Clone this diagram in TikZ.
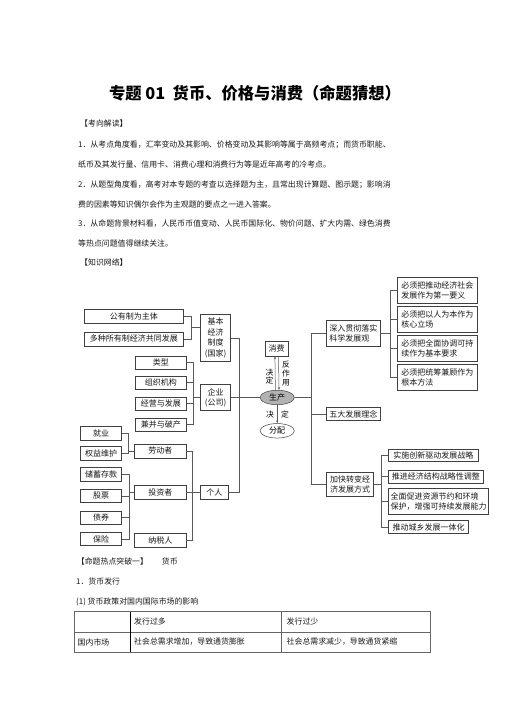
\documentclass[tikz,border=0pt]{standalone}
\usepackage{fontspec}
\setmainfont{Noto Sans CJK SC}
\usetikzlibrary{shapes.geometric,arrows.meta,shadows}

\tikzset{
  box/.style={draw=black!75, fill=white, line width=.5pt, inner sep=1pt, align=center,
    font=\fontsize{8}{10}\selectfont, text=black!90,
    drop shadow={shadow xshift=.6pt, shadow yshift=-.6pt, fill=black!45, opacity=1}},
  lbox/.style={box, align=left},
  wide/.style={minimum width=99pt, minimum height=14pt},
  mid/.style={minimum width=51.7pt, minimum height=13.3pt},
  outer/.style={minimum width=41.4pt, minimum height=13.3pt},
  oval/.style={ellipse, draw=black!75, line width=.5pt, inner sep=0pt,
    minimum width=34.3pt, minimum height=14.5pt, font=\fontsize{8}{9}\selectfont},
  link/.style={draw=black!65, line width=.5pt},
  arr/.style={link, -{Stealth[length=3pt,width=2.2pt]}},
  txt/.style={anchor=west, inner sep=0pt, font=\fontsize{7.9}{9}\selectfont, text=black!90},
  vlab/.style={inner sep=0pt, align=center, font=\fontsize{7.8}{8.8}\selectfont},
}

\begin{document}
\begin{tikzpicture}[x=1pt, y=-1pt]
  \useasboundingbox (0,0) rectangle (505,714);

  % heading and text
  \node[font=\fontsize{16.3}{16}\selectfont\bfseries] (title) at (255,93) {专题 01\ \ 货币、价格与消费（命题猜想）};
  \node[txt] (intro) at (80,123.3) {【考向解读】};
  \foreach[count=\k] \ln in {
      1．从考点角度看，汇率变动及其影响、价格变动及其影响等属于高频考点；而货币职能、,
      纸币及其发行量、信用卡、消费心理和消费行为等是近年高考的冷考点。,
      2．从题型角度看，高考对本专题的考查以选择题为主，且常出现计算题、图示题；影响消,
      费的因素等知识偶尔会作为主观题的要点之一进入答案。,
      3．从命题背景材料看，人民币币值变动、人民币国际化、物价问题、扩大内需、绿色消费,
      等热点问题值得继续关注。} {
    \node[txt] (line\k) at (78,{145+19.7*(\k-1)}) {\ln};
  }
  \node[txt] (net) at (80,262.7) {【知识网络】};

  % left side
  \node[box, wide] (pubown) at (133.8,316.3) {公有制为主体};
  \node[box, wide] (mixown) at (133.8,338.8) {多种所有制经济共同发展};
  \node[box, minimum width=30.4pt, minimum height=47.4pt, font=\fontsize{8}{10.5}\selectfont]
    (basic) at (215.5,338) {基本\\经济\\制度\\(国家)};
  \node[box, mid] (kind) at (160.8,362.7) {类型};
  \node[box, mid] (org) at (160.8,382.7) {组织机构};
  \node[box, mid] (manage) at (160.8,403.7) {经营与发展};
  \node[box, mid] (merge) at (160.8,424.7) {兼并与破产};
  \node[box, minimum width=30pt, minimum height=26pt] (firm) at (215.7,397.5) {企业\\(公司)};
  \node[box, outer] (job) at (101,433.3) {就业};
  \node[box, outer] (rights) at (101,453.3) {权益维护};
  \node[box, outer] (saving) at (101,474.3) {储蓄存款};
  \node[box, outer] (stock) at (101,496) {股票};
  \node[box, outer] (bond) at (101,517.7) {债券};
  \node[box, outer] (insur) at (101,539) {保险};
  \node[box, mid, minimum height=14pt] (labour) at (160.3,450.8) {劳动者};
  \node[box, mid, minimum height=14pt] (invest) at (160.3,492.2) {投资者};
  \node[box, mid, minimum height=14pt] (taxpay) at (160.3,540.5) {纳税人};
  \node[box, minimum width=28pt, minimum height=14pt] (person) at (214.3,492.2) {个人};

  \coordinate (b1) at (191.7,327.7);
  \coordinate (b2) at (193.3,397.5);
  \coordinate (b3) at (128.3,450.8);
  \coordinate (b4) at (129,492.2);
  \coordinate (b5) at (192.3,492.2);
  \coordinate (trunkL) at (239.3,397.5);

  \draw[link] (pubown.east) -| (b1) |- (mixown.east);
  \draw[link] (b1) -- (b1 -| basic.west);
  \draw[link] (kind.east) -| (b2 |- merge.east) -- (merge.east);
  \foreach \b in {org,manage} \draw[link] (\b.east) -- (\b.east -| b2);
  \draw[link] (b2) -- (firm.west);
  \draw[link] (job.east) -| (b3 |- rights.east) -- (rights.east);
  \draw[link] (b3) -- (labour.west);
  \draw[link] (saving.east) -| (b4 |- insur.east) -- (insur.east);
  \foreach \b in {stock,bond} \draw[link] (\b.east) -- (\b.east -| b4);
  \draw[link] (b4) -- (invest.west);
  \draw[link] (labour.east) -| (b5 |- taxpay.east) -- (taxpay.east);
  \draw[link] (invest.east) -- (person.west);
  \draw[link] (basic.east) -| (trunkL |- person.east) -- (person.east);

  % centre
  \node[box, minimum width=23.3pt, minimum height=14.3pt, drop shadow={opacity=0}] (consume) at (276.7,348.8) {消费};
  \node[oval, fill=black!30] (produce) at (277.2,397.5) {生产};
  \node[oval] (distrib) at (277.2,430.8) {分配};
  \draw[link] (firm.east) -- (produce.west);
  \draw[arr] ([xshift=-1.8pt]produce.north) -- ([xshift=-1.8pt]consume.south);
  \draw[arr] ([xshift=1.8pt]consume.south) -- ([xshift=1.8pt]produce.north);
  \draw[arr] (produce.south) -- (distrib.north);
  \node[vlab] (jd1) at (269.5,376.5) {决\\定};
  \node[vlab] (fzy) at (286,373.5) {反\\作\\用};
  \node[vlab] (jd2) at (270,414.5) {决};
  \node[vlab] (jd3) at (285,414.5) {定};

  % right side
  \node[lbox, minimum width=53.3pt, minimum height=25.3pt] (sciview) at (353.3,333.3) {深入贯彻落实\\科学发展观};
  \node[box, minimum width=53.3pt, minimum height=13.3pt] (fiveidea) at (353.3,414) {五大发展理念};
  \node[lbox, minimum width=46.7pt, minimum height=24pt] (transform) at (350,484.7) {加快转变经\\济发展方式};
  \node[lbox, minimum width=80pt, minimum height=26pt] (must1) at (437.3,290.3) {必须把推动经济社会\\发展作为第一要义};
  \node[lbox, minimum width=80pt, minimum height=26pt] (must2) at (437.3,319.5) {必须把以人为本作为\\核心立场};
  \node[lbox, minimum width=80pt, minimum height=26pt] (must3) at (437.3,348.3) {必须把全面协调可持\\续作为基本要求};
  \node[lbox, minimum width=80pt, minimum height=26pt] (must4) at (437.3,377.5) {必须把统筹兼顾作为\\根本方法};
  \node[lbox, anchor=west, minimum width=89.4pt, minimum height=12pt] (way1) at (388.3,455) {实施创新驱动发展战略};
  \node[lbox, anchor=west, minimum width=94.4pt, minimum height=13.3pt] (way2) at (388.3,476.7) {推进经济结构战略性调整};
  \node[lbox, anchor=west, minimum width=100pt, minimum height=25.7pt] (way3) at (388.3,501.2) {全面促进资源节约和环境\\保护，增强可持续发展能力};
  \node[lbox, anchor=west, minimum width=80pt, minimum height=12.6pt] (way4) at (388.3,527) {推动城乡发展一体化};

  \coordinate (trunkR) at (311.7,397.5);
  \coordinate (b6) at (390,333.3);
  \coordinate (b7) at (381.7,484.7);

  \draw[link] (produce.east) -- (trunkR);
  \draw[link] (sciview.west) -| (trunkR |- transform.west) -- (transform.west);
  \draw[link] (trunkR |- fiveidea.west) -- (fiveidea.west);
  \draw[link] (must1.west) -| (b6 |- must4.west) -- (must4.west);
  \foreach \b in {must2,must3} \draw[link] (\b.west) -- (\b.west -| b6);
  \draw[link] (sciview.east) -- (b6);
  \draw[link] (way1.west) -| (b7 |- way4.west) -- (way4.west);
  \foreach \b in {way2,way3} \draw[link] (\b.west) -- (\b.west -| b7);
  \draw[link] (transform.east) -- (b7);

  % lower text and table
  \node[txt] (hot) at (76.7,561) {【命题热点突破一】};
  \node[txt] (money) at (161.7,561) {货币};
  \node[txt] (issue) at (76,581.7) {1．货币发行};
  \node[txt] (policy) at (76,601.7) {(1) 货币政策对国内国际市场的影响};
  \draw[black!60, line width=.6pt] (74.3,611.7) rectangle (430,652.3);
  \draw[black!60, line width=.6pt] (74.3,632) -- (430,632);
  \draw[black!60, line width=.6pt] (281.7,611.7) -- (281.7,652.3);
  \draw[black, line width=.8pt] (130,611.7) -- (130,652.3);
  \node[txt] (c12) at (134,621.8) {发行过多};
  \node[txt] (c13) at (286.5,621.8) {发行过少};
  \node[txt] (c21) at (77.5,642) {国内市场};
  \node[txt] (c22) at (134,642) {社会总需求增加，导致通货膨胀};
  \node[txt] (c23) at (286.5,642) {社会总需求减少，导致通货紧缩};
\end{tikzpicture}
\end{document}
